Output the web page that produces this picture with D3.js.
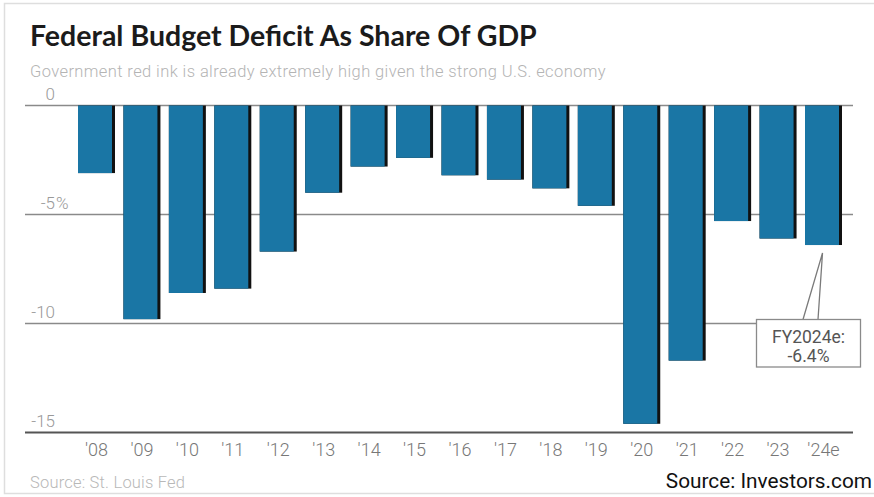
<!DOCTYPE html>
<html>
<head>
<meta charset="utf-8">
<script src="https://cdn.jsdelivr.net/npm/d3@7/dist/d3.min.js"></script>
<style>
  html, body { margin: 0; padding: 0; background: #fff; overflow: hidden; }
  svg { display: block; }
</style>
</head>
<body>
<svg id="chart" width="874" height="497"></svg>
<script>
// Federal deficit, % of GDP, fiscal years 2008–2024 (2024 estimated)
const years = ["'08", "'09", "'10", "'11", "'12", "'13", "'14", "'15", "'16", "'17", "'18", "'19", "'20", "'21", "'22", "'23", "'24e"];
const deficit = [-3.1, -9.8, -8.6, -8.4, -6.7, -4.0, -2.8, -2.4, -3.2, -3.4, -3.8, -4.6, -14.6, -11.7, -5.3, -6.1, -6.4];
const yTicks = [0, -5, -10, -15];
const yTickLabels = ["0", "-5", "-10", "-15"];
const yTickSuffix = ["", "%", "", ""];
const calloutLines = ["FY2024e:", "-6.4%"];

const svg = d3.select("#chart");
const W = 874, H = 497;

// outer frame
svg.append("rect")
  .attr("x", 4.5).attr("y", 3.5)
  .attr("width", W + 10).attr("height", 490)
  .attr("fill", "#fff").attr("stroke", "#dedede").attr("stroke-width", 1.5);

// heading
svg.append("text")
  .attr("x", 30).attr("y", 46)
  .attr("font-family", "Lato, 'Open Sans', sans-serif")
  .attr("font-weight", 700).attr("font-size", 28.5)
  .attr("fill", "#1b1b1b")
  .text("Federal Budget Deficit As Share Of GDP");

svg.append("text")
  .attr("x", 30).attr("y", 77)
  .attr("font-family", "Roboto, sans-serif")
  .attr("font-weight", 300).attr("font-size", 16.5)
  .attr("letter-spacing", 0.4)
  .attr("fill", "#b4b4b4")
  .text("Government red ink is already extremely high given the strong U.S. economy");

// scales
const y = d3.scaleLinear().domain([0, -15]).range([105.5, 432.5]);
const x = d3.scaleBand().domain(years).range([78, 842])
  .paddingInner(0.186).paddingOuter(0);

// horizontal grid
const gridLeft = 25, gridRight = 853;
svg.append("g").selectAll("line")
  .data(yTicks)
  .join("line")
  .attr("x1", gridLeft).attr("x2", gridRight)
  .attr("y1", d => y(d)).attr("y2", d => y(d))
  .attr("stroke", d => d === -15 ? "#555" : "#8a8a8a")
  .attr("stroke-width", d => d === -15 ? 2.2 : 1.6);

// y tick labels: numbers right-aligned, percent sign hanging after
const yLab = svg.append("g")
  .attr("font-family", "Roboto, sans-serif")
  .attr("font-weight", 300).attr("font-size", 17)
  .attr("fill", "#999");
const labelRight = 55;
yLab.selectAll("text.num")
  .data(yTicks)
  .join("text")
  .attr("class", "num")
  .attr("x", labelRight)
  .attr("y", d => y(d) - 6)
  .attr("text-anchor", "end")
  .text((d, i) => yTickLabels[i]);
yLab.selectAll("text.suf")
  .data(yTicks)
  .join("text")
  .attr("class", "suf")
  .attr("x", labelRight + 1)
  .attr("y", d => y(d) - 6)
  .attr("text-anchor", "start")
  .text((d, i) => yTickSuffix[i]);

// bars: dark right edge under a blue face
const edge = 3;
const bars = svg.append("g").selectAll("g")
  .data(years.map((yr, i) => ({ yr, v: deficit[i] })))
  .join("g");
bars.append("rect")
  .attr("x", d => x(d.yr))
  .attr("y", y(0))
  .attr("width", x.bandwidth())
  .attr("height", d => y(d.v) - y(0))
  .attr("fill", "#111");
bars.append("rect")
  .attr("x", d => x(d.yr))
  .attr("y", y(0))
  .attr("width", x.bandwidth() - edge)
  .attr("height", d => y(d.v) - y(0))
  .attr("fill", "#1a76a5");

// x axis labels
const xAxis = d3.axisBottom(x).tickSize(0).tickPadding(0);
const gx = svg.append("g")
  .attr("transform", `translate(0, ${y(-15) + 11})`)
  .call(xAxis);
gx.select(".domain").remove();
gx.selectAll("text")
  .attr("font-family", "Roboto, sans-serif")
  .attr("font-weight", 300)
  .attr("font-size", 18)
  .attr("fill", "#777")
  .attr("dy", "0.71em");

// callout for the last bar
const last = years.length - 1;
const tipX = x(years[last]) + x.bandwidth() / 2 - 1;
const tipY = y(deficit[last]) + 8;
const box = { x: 756.5, y: 319.5, w: 104, h: 47.5 };
svg.append("path")
  .attr("d", `M${803},${box.y} L${tipX},${tipY} L${818},${box.y}`)
  .attr("fill", "none").attr("stroke", "#7a7a7a").attr("stroke-width", 1.3);
svg.append("rect")
  .attr("x", box.x).attr("y", box.y)
  .attr("width", box.w).attr("height", box.h)
  .attr("fill", "#fff").attr("stroke", "#8a8a8a").attr("stroke-width", 1.3);
svg.append("text")
  .attr("font-family", "Roboto, sans-serif")
  .attr("font-size", 17.5)
  .attr("fill", "#555")
  .attr("text-anchor", "middle")
  .selectAll("tspan")
  .data(calloutLines)
  .join("tspan")
  .attr("x", box.x + box.w / 2)
  .attr("y", (d, i) => box.y + 23 + i * 19)
  .text(d => d);

// sources
svg.append("text")
  .attr("x", 30).attr("y", 488)
  .attr("font-family", "Roboto, sans-serif")
  .attr("font-weight", 300).attr("font-size", 16.5)
  .attr("letter-spacing", 0.2)
  .attr("fill", "#b8b8b8")
  .text("Source: St. Louis Fed");

svg.append("text")
  .attr("x", 872).attr("y", 488)
  .attr("text-anchor", "end")
  .attr("font-family", "Roboto, sans-serif")
  .attr("font-size", 20.8)
  .attr("fill", "#111")
  .text("Source: Investors.com");
</script>
</body>
</html>
